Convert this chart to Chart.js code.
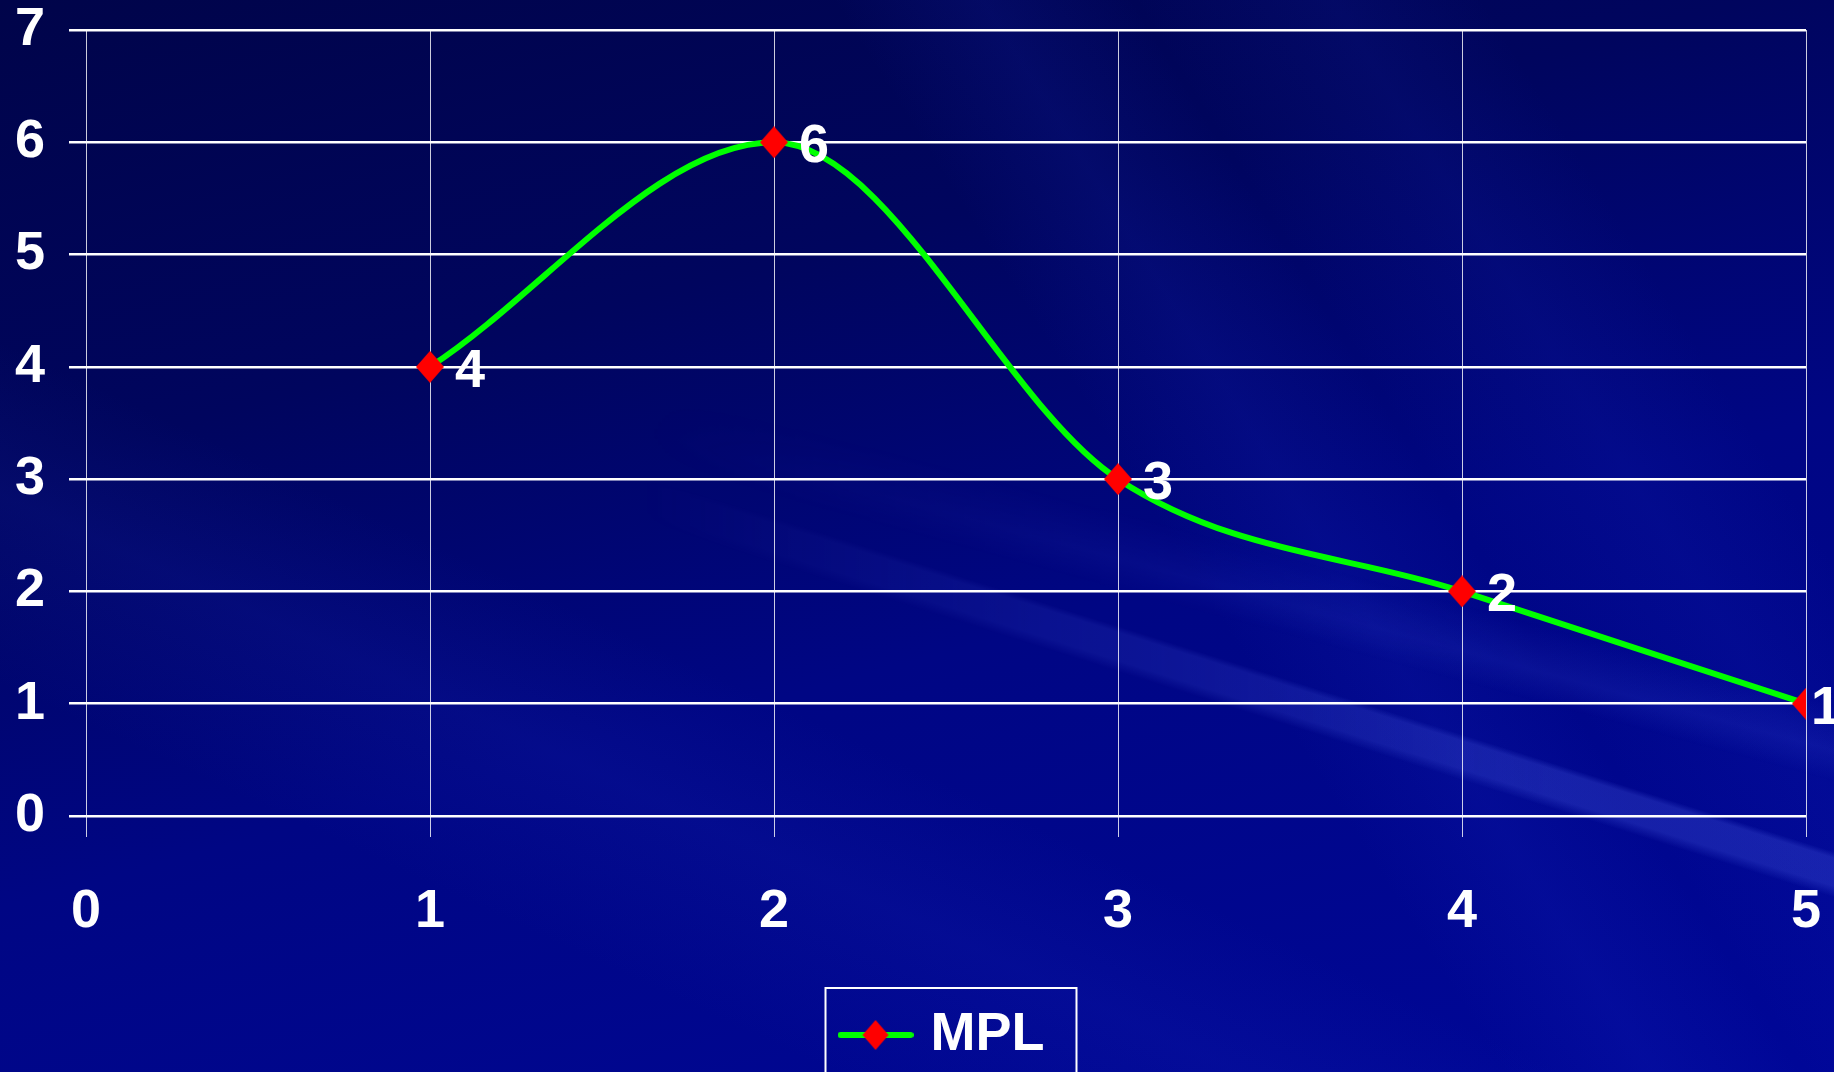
<!DOCTYPE html>
<html>
<head>
<meta charset="utf-8">
<script src="https://cdn.jsdelivr.net/npm/chart.js@4"></script>
<style>
  html, body { margin: 0; padding: 0; }
  body {
    width: 1834px; height: 1072px; overflow: hidden; position: relative;
    background:
      linear-gradient(58deg, rgba(30,50,210,0) 60%, rgba(30,50,210,0.12) 66%, rgba(30,50,210,0) 72%, rgba(30,50,210,0.10) 80%, rgba(30,50,210,0) 86%),
      linear-gradient(25deg, rgba(40,60,210,0) 20%, rgba(40,60,210,0.10) 30%, rgba(40,60,210,0) 38%),
      linear-gradient(165deg, #00044a 0%, #00055e 30%, #000684 58%, #000798 100%);
  }
  #streak {
    position: absolute; left: 0; top: 0; width: 1834px; height: 1072px;
    background:
      linear-gradient(17.5deg, rgba(80,100,235,0) 45.6%, rgba(80,100,235,0.28) 46.3%, rgba(80,100,235,0.28) 48%, rgba(80,100,235,0) 48.4%),
      linear-gradient(15deg, rgba(70,90,230,0) 50%, rgba(70,90,230,0.14) 52%, rgba(70,90,230,0) 55%);
    -webkit-mask-image: linear-gradient(to right, transparent 35%, black 85%);
    mask-image: linear-gradient(to right, transparent 35%, black 85%);
  }
  #wrap { position: absolute; left: 0; top: 0; width: 1834px; height: 1072px; }
</style>
</head>
<body>
<div id="streak"></div>
<div id="wrap"><canvas id="mplChart"></canvas></div>
<script>
var xValues = [1, 2, 3, 4, 5];
var yValues = [4, 6, 3, 2, 1];
var seriesName = "MPL";

var fontFamily = "'Liberation Sans', Arial, sans-serif";

function diamond(c, cx, cy, w, h) {
    c.fillStyle = '#ff0000';
    c.beginPath();
    c.moveTo(cx, cy - h / 2);
    c.lineTo(cx + w / 2, cy);
    c.lineTo(cx, cy + h / 2);
    c.lineTo(cx - w / 2, cy);
    c.closePath();
    c.fill();
}

// marker: red diamond, a bit taller than wide
var marker = document.createElement('canvas');
marker.width = 28;
marker.height = 32;
diamond(marker.getContext('2d'), 14, 16, 28, 32);

// legend symbol: green line with a red diamond
var legendIcon = document.createElement('canvas');
legendIcon.width = 76;
legendIcon.height = 32;
(function () {
    var c = legendIcon.getContext('2d');
    c.strokeStyle = '#00ff00';
    c.lineWidth = 6;
    c.lineCap = 'round';
    c.beginPath();
    c.moveTo(3, 16);
    c.lineTo(73, 16);
    c.stroke();
    diamond(c, 38, 16, 26, 30);
})();

var valueLabels = {
    id: 'valueLabels',
    afterDatasetsDraw: function (chart) {
        var ctx = chart.ctx;
        var meta = chart.getDatasetMeta(0);
        ctx.save();
        ctx.fillStyle = '#ffffff';
        ctx.font = "bold 54px " + fontFamily;
        ctx.textAlign = 'left';
        ctx.textBaseline = 'middle';
        meta.data.forEach(function (pt, i) {
            var txt = String(yValues[i]);
            var x = pt.x + 25;
            if (x + ctx.measureText(txt).width > chart.width) x = pt.x + 5;
            ctx.fillText(txt, x, pt.y + 5);
        });
        ctx.restore();
    }
};

var legendBox = {
    id: 'legendBox',
    afterDraw: function (chart) {
        var hb = chart.legend.legendHitBoxes[0];
        if (!hb) return;
        var ctx = chart.ctx;
        var midY = hb.top + hb.height / 2;
        ctx.save();
        ctx.strokeStyle = '#ffffff';
        ctx.lineWidth = 2;
        ctx.strokeRect(hb.left - 22, midY - 47, hb.width + 54, 200);
        ctx.restore();
    }
};

var ctx = document.getElementById('mplChart').getContext('2d');
var chart = new Chart(ctx, {
    type: 'line',
    data: {
        datasets: [{
            label: seriesName,
            data: xValues.map(function (x, i) { return { x: x, y: yValues[i] }; }),
            borderColor: '#00ff00',
            borderWidth: 6,
            cubicInterpolationMode: 'monotone',
            fill: false,
            pointStyle: marker,
            pointRadius: 15,
            pointHoverRadius: 15
        }]
    },
    options: {
        responsive: true,
        maintainAspectRatio: false,
        animation: false,
        devicePixelRatio: 1,
        layout: { padding: { left: 15, right: 28, top: 30, bottom: 0 } },
        scales: {
            x: {
                type: 'linear',
                min: 0,
                max: 5,
                ticks: {
                    stepSize: 1, color: '#ffffff', padding: 0,
                    font: { family: fontFamily, size: 54, weight: 'bold', lineHeight: 150 / 54 }
                },
                grid: { color: 'rgba(255,255,255,0.8)', lineWidth: 1, tickLength: 21 },
                border: { display: false }
            },
            y: {
                min: 0,
                max: 7,
                afterFit: function (scale) { scale.width = 71; },
                ticks: {
                    stepSize: 1, color: '#ffffff', padding: 0, crossAlign: 'far',
                    font: { family: fontFamily, size: 54, weight: 'bold', lineHeight: 1 }
                },
                grid: { color: '#ffffff', lineWidth: 2.5, tickLength: 17 },
                border: { display: false }
            }
        },
        plugins: {
            legend: {
                position: 'bottom',
                fullSize: false,
                labels: {
                    color: '#ffffff',
                    font: { family: fontFamily, size: 54, weight: 'bold' },
                    usePointStyle: true,
                    pointStyle: legendIcon,
                    pointStyleWidth: 56,
                    padding: 21
                }
            },
            tooltip: { enabled: false }
        }
    },
    plugins: [valueLabels, legendBox]
});
</script>
</body>
</html>
